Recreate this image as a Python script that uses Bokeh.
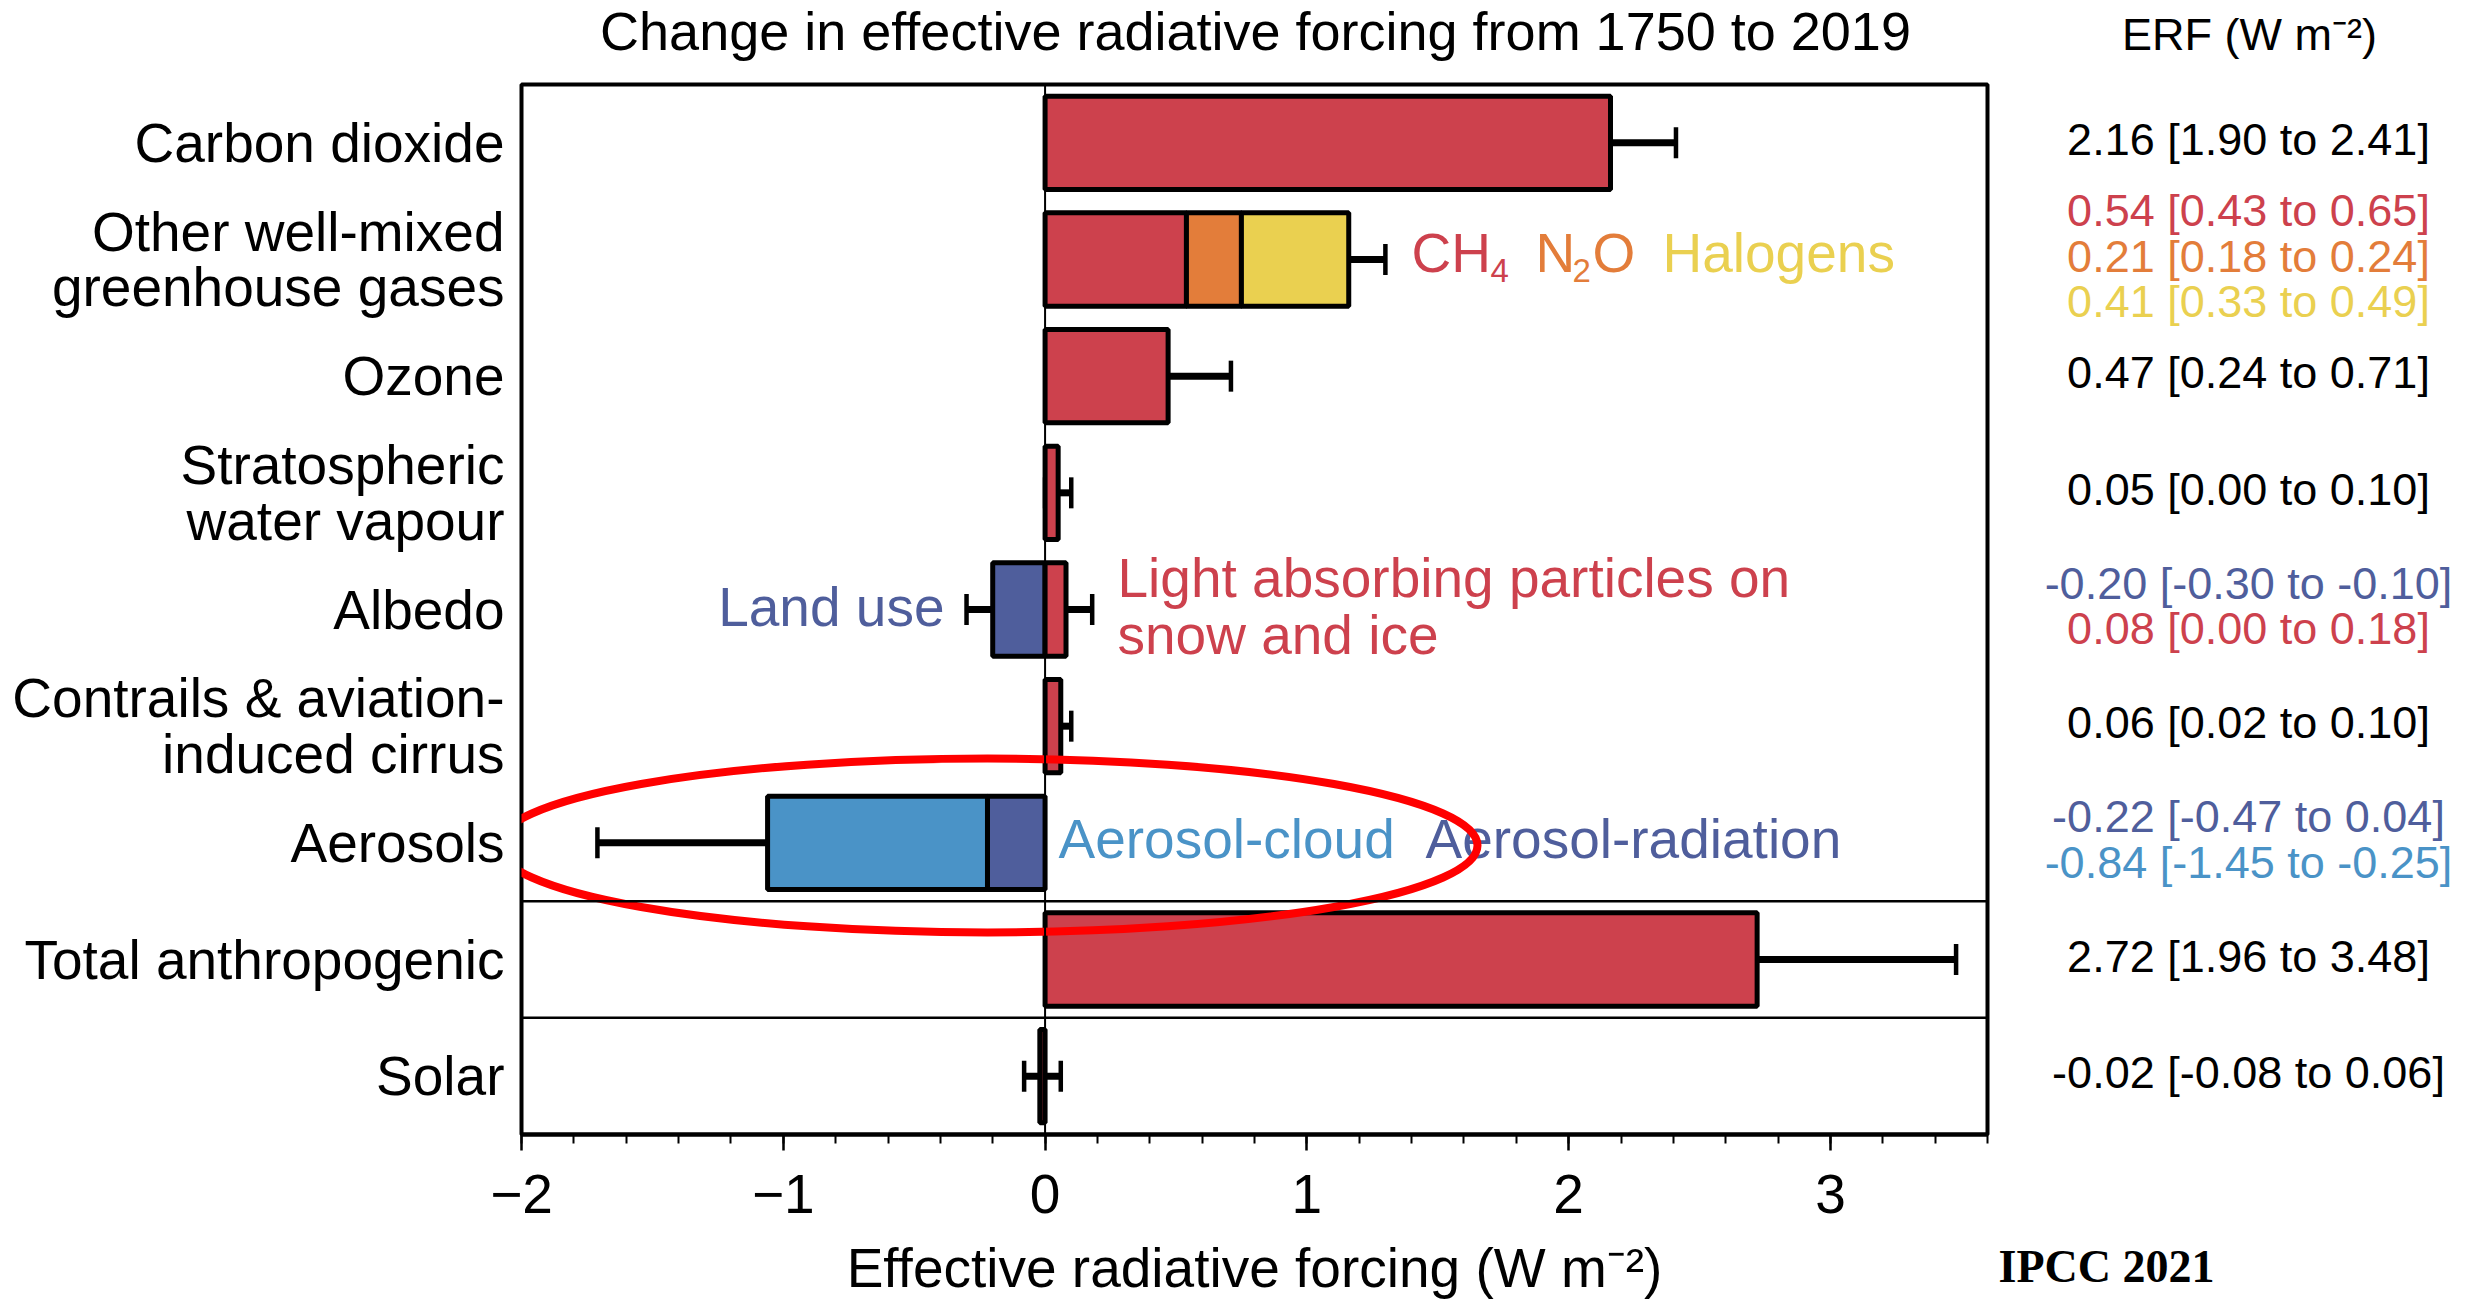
import numpy as np
from bokeh.plotting import figure
from bokeh.layouts import row, column
from bokeh.models import (Range1d, FixedTicker, Span, Whisker, TeeHead, ColumnDataSource)
from bokeh.core.properties import value
from bokeh.embed import file_html
from bokeh.resources import INLINE

# ---------------- data ----------------
categories = ["Carbon dioxide", "Other well-mixed\ngreenhouse gases", "Ozone",
              "Stratospheric\nwater vapour", "Albedo",
              "Contrails & aviation-\ninduced cirrus", "Aerosols",
              "Total anthropogenic", "Solar"]

comp_row  = [0, 1, 1, 1, 2, 3, 4, 4, 5, 6, 6, 7, 8]
comp_name = ["Carbon dioxide", "CH4", "N2O", "Halogens", "Ozone", "Stratospheric water vapour",
             "Land use", "Light absorbing particles", "Contrails", "Aerosol-radiation",
             "Aerosol-cloud", "Total anthropogenic", "Solar"]
comp_best = [2.16, 0.54, 0.21, 0.41, 0.47, 0.05, -0.20, 0.08, 0.06, -0.22, -0.84, 2.72, -0.02]
comp_low  = [1.90, 0.43, 0.18, 0.33, 0.24, 0.00, -0.30, 0.00, 0.02, -0.47, -1.45, 1.96, -0.08]
comp_high = [2.41, 0.65, 0.24, 0.49, 0.71, 0.10, -0.10, 0.18, 0.10, 0.04, -0.25, 3.48, 0.06]

RED, ORANGE, YELLOW, DBLUE, LBLUE = "#CD414D", "#E37D3A", "#EAD050", "#4F5E9C", "#4A93C7"
comp_color = [RED, RED, ORANGE, YELLOW, RED, RED, DBLUE, RED, RED, DBLUE, LBLUE, RED, RED]
comp_text_color = ["black", RED, ORANGE, YELLOW, "black", "black", DBLUE, RED, "black",
                   DBLUE, LBLUE, "black", "black"]

# error bars drawn on the chart (row totals where components are stacked)
err_row  = [0, 1, 2, 3, 4, 4, 5, 6, 7, 8]
err_low  = [1.90, 1.03, 0.24, 0.00, -0.30, 0.00, 0.02, -1.71, 1.96, -0.08]
err_high = [2.41, 1.30, 0.71, 0.10, -0.10, 0.18, 0.10, -0.41, 3.48, 0.06]

x_ticks = [-2, -1, 0, 1, 2, 3]
x_tick_labels = ["\u22122", "\u22121", "0", "1", "2", "3"]

TITLE = "Change in effective radiative forcing from 1750 to 2019"
UNIT_HEADER = "ERF (W m\u207b\u00b2)"
X_LABEL = "Effective radiative forcing (W m\u207b\u00b2)"
CREDIT = "IPCC 2021"

FONT = "Liberation Sans"

# ---------------- geometry (pixels of the page) ----------------
W, H = 2476, 1302
FL, FR, FT, FB = 521, 1987, 84, 1134        # plot frame edges
XMIN, XMAX = -2.0, 3.6
YTOP, YBOT = -0.5, 8.5
PXX = (FR - FL) / (XMAX - XMIN)
PXY = (FB - FT) / (YBOT - YTOP)
def xd(px):  # page pixel -> x data
    return XMIN + (px - FL) / PXX
def yd(py):  # page pixel -> row data
    return YTOP + (py - FT) / PXY

TOP_H = FT - 3          # top strip height
MAIN_W = FR + 3         # main figure width

def no_align(f):
    try:
        f.frame_align = False
    except Exception:
        pass

# ---------------- stacked segments ----------------
pos_acc, neg_acc = {}, {}
bar_y, bar_left, bar_right = [], [], []
for r, v in zip(comp_row, comp_best):
    if v >= 0:
        s = pos_acc.get(r, 0.0)
        bar_left.append(s); bar_right.append(s + v); pos_acc[r] = s + v
    else:
        s = neg_acc.get(r, 0.0)
        bar_left.append(s + v); bar_right.append(s); neg_acc[r] = s + v
    bar_y.append(r)

def blank(width, height, x0, x1, y0, y1):
    f = figure(width=width, height=height, output_backend="svg", toolbar_location=None,
               x_range=Range1d(xd(x0), xd(x1)), y_range=Range1d(yd(y1), yd(y0)),
               x_axis_type=None, y_axis_type=None, min_border=0)
    f.outline_line_color = None
    f.grid.visible = False
    f.background_fill_color = "white"
    f.border_fill_color = "white"
    no_align(f)
    return f

# ---------------- main chart ----------------
p = figure(width=MAIN_W, height=H - TOP_H, output_backend="svg", toolbar_location=None,
           x_range=Range1d(XMIN, XMAX), y_range=Range1d(YBOT, YTOP),
           min_border_left=FL, min_border_right=MAIN_W - FR, min_border_top=FT - TOP_H,
           min_border_bottom=H - FB)
no_align(p)
p.outline_line_color = "black"
p.outline_line_width = 4
p.grid.visible = False
p.background_fill_color = "white"
p.border_fill_color = "white"

xa = p.xaxis[0]
xa.ticker = FixedTicker(ticks=x_ticks,
                        minor_ticks=[round(XMIN + 0.2 * i, 1) for i in range(29)])
xa.major_label_overrides = {t: l for t, l in zip(x_ticks, x_tick_labels)}
xa.major_tick_out = 16
xa.major_tick_in = 0
xa.minor_tick_out = 9
xa.minor_tick_in = 0
xa.major_tick_line_width = 2.5
xa.minor_tick_line_width = 2
xa.axis_line_width = 4
xa.major_label_text_font = FONT
xa.major_label_text_font_size = "55px"
xa.major_label_text_color = "black"
xa.major_label_standoff = 24
xa.axis_label = X_LABEL
xa.axis_label_text_font = FONT
xa.axis_label_text_font_size = "55px"
xa.axis_label_text_font_style = "normal"
xa.axis_label_text_color = "black"
xa.axis_label_standoff = 21

ya = p.yaxis[0]
ya.ticker = FixedTicker(ticks=list(range(len(categories))))
ya.major_label_overrides = {i: c for i, c in enumerate(categories)}
ya.major_tick_line_color = None
ya.minor_tick_line_color = None
ya.axis_line_color = None
ya.major_label_text_font = FONT
ya.major_label_text_font_size = "55px"
ya.major_label_text_color = "black"
ya.major_label_text_line_height = 0.9
ya.major_label_standoff = 11

p.add_layout(Span(location=0, dimension="height", line_color="black", line_width=2))
p.add_layout(Span(location=6.5, dimension="width", line_color="black", line_width=2.5))
p.add_layout(Span(location=7.5, dimension="width", line_color="black", line_width=2.5))

src = ColumnDataSource(dict(y=bar_y, left=bar_left, right=bar_right, color=comp_color))
p.hbar(y="y", left="left", right="right", height=0.8, fill_color="color",
       line_color="black", line_width=5, source=src)

esrc = ColumnDataSource(dict(base=err_row, lower=err_low, upper=err_high))
p.add_layout(Whisker(base="base", lower="lower", upper="upper", dimension="width",
                     source=esrc, line_color="black", line_width=7,
                     lower_head=TeeHead(size=31, line_width=4.5, line_color="black"),
                     upper_head=TeeHead(size=31, line_width=4.5, line_color="black")))

# in-plot annotations (visual centres)
ann = ColumnDataSource(dict(
    x=[xd(1411), xd(1535), xd(1592), xd(1662), xd(944), xd(1117), xd(1117), xd(1058), xd(1425)],
    y=[yd(252), yd(252), yd(252), yd(252), yd(606), yd(577), yd(634), yd(838), yd(838)],
    text=["CH", "N", "O", "Halogens", "Land use", "Light absorbing particles on",
          "snow and ice", "Aerosol-cloud", "Aerosol-radiation"],
    color=[RED, ORANGE, ORANGE, YELLOW, DBLUE, RED, RED, LBLUE, DBLUE],
    align=["left", "left", "left", "left", "right", "left", "left", "left", "left"],
))
p.text(x="x", y="y", text="text", text_color="color", text_align="align",
       text_baseline="middle", text_font=value(FONT), text_font_size="55px", source=ann)
sub = ColumnDataSource(dict(x=[xd(1490), xd(1572)], y=[yd(270), yd(270)], text=["4", "2"],
                            color=[RED, ORANGE]))
p.text(x="x", y="y", text="text", text_color="color", text_baseline="middle",
       text_font=value(FONT), text_font_size="33px", source=sub)

# red highlight ellipse around the aerosol bar
ell = ColumnDataSource(dict(x=[xd(987)], y=[yd(845)], w=[980 / PXX], h=[174 / PXY]))
p.ellipse(x="x", y="y", width="w", height="h", fill_color=None, line_color="#FF0000",
          line_width=8, source=ell)

# ---------------- right column: values ----------------
rf = blank(W - MAIN_W, H - TOP_H, MAIN_W, W, TOP_H, H)
by_row = {}
for i, r in enumerate(comp_row):
    by_row.setdefault(r, []).append(i)
vx, vy, vt, vc = [], [], [], []
for r, idxs in by_row.items():
    n = len(idxs)
    for k, i in enumerate(idxs):
        vx.append(xd(2248))
        vy.append(r - 0.03 + (k - (n - 1) / 2) * 0.39)
        vt.append(f"{comp_best[i]:.2f} [{comp_low[i]:.2f} to {comp_high[i]:.2f}]")
        vc.append(comp_text_color[i])
rf.text(x="x", y="y", text="text", text_color="color", text_align="center",
        text_baseline="middle", text_font=value(FONT), text_font_size="45px",
        source=ColumnDataSource(dict(x=vx, y=vy, text=vt, color=vc)))
rf.text(x=[xd(1998)], y=[yd(1266)], text=[CREDIT], text_color="black",
        text_baseline="middle", text_font=value("Liberation Serif"),
        text_font_style="bold", text_font_size="46px")

# ---------------- top strip: title and unit header ----------------
tf = blank(W, TOP_H, 0, W, 0, TOP_H)
tf.text(x=[xd(1255)], y=[yd(30)], text=[TITLE], text_color="black", text_align="center",
        text_baseline="middle", text_font=value(FONT), text_font_size="54px")
tf.text(x=[xd(2249)], y=[yd(34)], text=[UNIT_HEADER], text_color="black",
        text_align="center", text_baseline="middle", text_font=value(FONT),
        text_font_size="45px")

layout = column(tf, row(p, rf, spacing=0), spacing=0)
open("out.html", "w").write(file_html(layout, INLINE))
